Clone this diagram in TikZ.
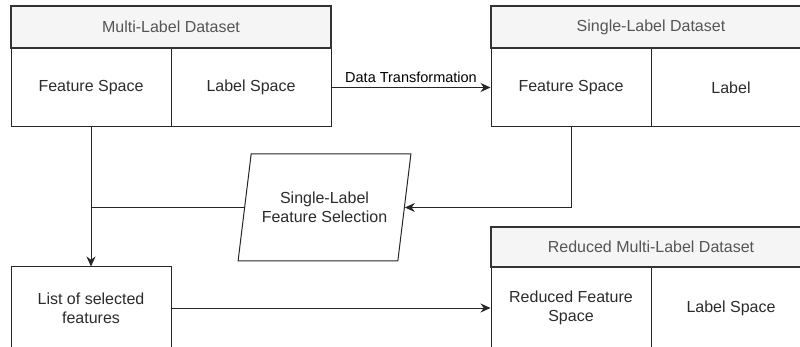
\documentclass[tikz,border=0pt]{standalone}
\usepackage{fontspec}
\setmainfont{Liberation Sans}
\usetikzlibrary{arrows.meta,shapes.geometric}

\definecolor{hdrfill}{HTML}{F5F5F5}
\definecolor{hdrtext}{HTML}{555555}
\definecolor{bodytext}{HTML}{2B2B2B}

\begin{document}
\begin{tikzpicture}[x=1pt, y=-1pt,
    font=\fontsize{16}{19}\selectfont,
    cell/.style={shape=rectangle, draw=black!85, line width=1pt, text=bodytext,
        minimum width=160pt, align=center, inner sep=0pt},
    hdr/.style={shape=rectangle, draw=black!80, line width=2pt, fill=hdrfill,
        text=hdrtext, minimum width=320pt, inner sep=0pt},
    flow/.style={-{Stealth[length=10pt, width=9pt]}, line width=1pt, black!85}]
    \useasboundingbox (0,0) rectangle (800,347);
    \clip (0,0) rectangle (800,347);

    % multi-label dataset
    \node[cell, minimum height=79pt] at (91,87.5) (MF) {Feature Space};
    \node[cell, minimum height=79pt] at (251,87.5) (ML) {Label Space};
    \node[hdr, minimum height=42pt] at (171,27) (MH) {Multi-Label Dataset};

    % single-label dataset
    \node[cell, minimum height=79pt] at (571,87.5) (SF) {Feature Space};
    \node[cell, minimum height=79pt] at (731,87.5) (SL) {Label};
    \node[hdr, minimum height=42pt] at (651,27) (SH) {Single-Label Dataset};

    % selection step
    \node[shape=trapezium, trapezium left angle=70, trapezium right angle=110,
        trapezium stretches=true, minimum width=173pt, minimum height=107pt,
        draw=black!85, line width=1pt, text=bodytext, align=center, inner sep=0pt]
        at (324.5,207.5) (SEL) {Single-Label\\Feature Selection};
    \node[cell, minimum height=82pt] at (91,308) (LST) {List of selected\\features};

    % reduced multi-label dataset
    \node[cell, minimum height=82pt] at (571,308) (RF) {Reduced Feature\\Space};
    \node[cell, minimum height=82pt] at (731,308) (RL) {Label Space};
    \node[hdr, minimum height=40pt] at (651,247) (RH) {Reduced Multi-Label Dataset};

    \path [flow] (ML) edge node[above=1.5pt, black, font=\fontsize{14.5}{17}\selectfont] {Data Transformation} (SF);
    \draw [flow] (MF) -- (LST);
    \draw [flow] (SF.south) |- (SEL.east);
    \draw [line width=1pt, black!85] (SEL.west) -- (SEL.west -| MF.south);
    \draw [flow] (LST) -- (RF);
\end{tikzpicture}
\end{document}
